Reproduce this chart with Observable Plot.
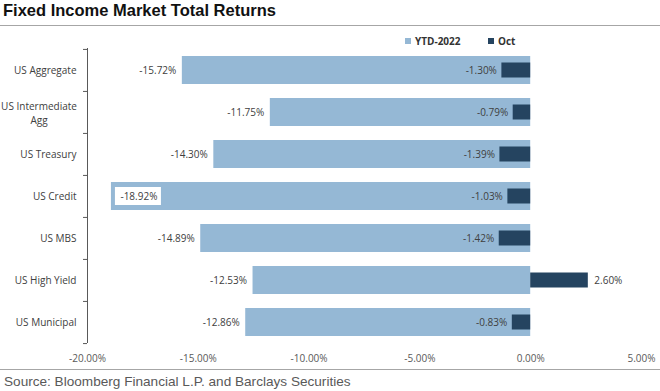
<!DOCTYPE html>
<html>
<head>
<meta charset="utf-8">
<script src="https://cdn.jsdelivr.net/npm/d3@7"></script>
<script src="https://cdn.jsdelivr.net/npm/@observablehq/plot@0.6"></script>
<style>
  html, body { margin: 0; padding: 0; background: #fff; }
  #wrap { position: relative; width: 660px; height: 391px; overflow: hidden; background: #fff; font-family: "Open Sans", "Noto Sans", sans-serif; }
  #title { position: absolute; left: 3px; top: 1px; font-family: "Liberation Sans", Arial, sans-serif; font-weight: bold; font-size: 16.5px; color: #111; white-space: nowrap; }
  .hline { position: absolute; left: 0; width: 660px; height: 1px; background: #a6a6a6; }
  #legend { position: absolute; top: 34px; left: 405px; font-size: 10px; font-weight: bold; color: #333; white-space: nowrap; }
  #legend .item { position: absolute; top: 0; display: flex; align-items: center; gap: 4px; }
  #legend .sw { display: inline-block; width: 6px; height: 6px; }
  #chart { position: absolute; left: 0; top: 30px; }
  #source { position: absolute; left: 4px; top: 374px; font-family: "Liberation Sans Narrow", "Arial Narrow", "Liberation Sans", sans-serif; font-size: 13.6px; color: #595959; white-space: nowrap; }
</style>
</head>
<body>
<div id="wrap">
  <div id="title">Fixed Income Market Total Returns</div>
  <div class="hline" style="top:25px"></div>
  <div id="legend"></div>
  <div id="chart"></div>
  <div class="hline" style="top:369px"></div>
  <div id="source">Source: Bloomberg Financial L.P. and Barclays Securities</div>
</div>
<script>
const categories = ["US Aggregate", "US Intermediate Agg", "US Treasury", "US Credit", "US MBS", "US High Yield", "US Municipal"];
const ytd2022 = [-15.72, -11.75, -14.30, -18.92, -14.89, -12.53, -12.86];
const oct = [-1.30, -0.79, -1.39, -1.03, -1.42, 2.60, -0.83];
const xTicks = [-20, -15, -10, -5, 0, 5];
const seriesNames = ["YTD-2022", "Oct"];
const seriesColors = ["#95b8d5", "#254460"];

const data = categories.map((c, i) => ({cat: c, ytd: ytd2022[i], oct: oct[i]}));
const fmt = v => v.toFixed(2) + "%";
const minYtd = d3.min(ytd2022);

const W = 660, H = 340, MT = 18, MB = 27, ML = 87, MR = 19;
const step = (H - MT - MB) / categories.length;

// legend
const legend = document.getElementById("legend");
const legendX = [0, 83];
seriesNames.forEach((n, i) => {
  const it = document.createElement("div");
  it.className = "item";
  it.style.left = legendX[i] + "px";
  it.innerHTML = `<span class="sw" style="background:${seriesColors[i]}"></span><span>${n}</span>`;
  legend.appendChild(it);
});

const labelColor = "#404040";
const plot = Plot.plot({
  width: W, height: H,
  marginTop: MT, marginBottom: MB, marginLeft: ML, marginRight: MR,
  style: {fontFamily: "'Open Sans', 'Noto Sans', sans-serif", fontSize: "10px", background: "transparent"},
  x: {domain: [-20, 5], label: null},
  y: {domain: categories, padding: 0, label: null, axis: null},
  marks: [
    Plot.barX(data, {y: "cat", x1: 0, x2: "ytd", fill: seriesColors[0], insetTop: 7, insetBottom: 7}),
    Plot.barX(data, {y: "cat", x1: 0, x2: "oct", fill: seriesColors[1], insetTop: 13.5, insetBottom: 13.5}),
    // YTD labels outside (left of bar)
    Plot.text(data.filter(d => d.ytd !== minYtd), {y: "cat", x: "ytd", text: d => fmt(d.ytd), textAnchor: "end", dx: -6, fill: labelColor}),
    // YTD label inside with white box
    Plot.barX(data.filter(d => d.ytd === minYtd), {y: "cat", x1: "ytd", x2: "ytd", insetLeft: 4, insetRight: -50, insetTop: 12, insetBottom: 12, fill: "white"}),
    Plot.text(data.filter(d => d.ytd === minYtd), {y: "cat", x: "ytd", text: d => fmt(d.ytd), textAnchor: "start", dx: 9, fill: labelColor}),
    // Oct labels
    Plot.text(data.filter(d => d.oct < 0), {y: "cat", x: "oct", text: d => fmt(d.oct), textAnchor: "end", dx: -5, fill: labelColor}),
    Plot.text(data.filter(d => d.oct >= 0), {y: "cat", x: "oct", text: d => fmt(d.oct), textAnchor: "start", dx: 6, fill: labelColor}),
    // category labels
    Plot.text(data.filter(d => d.cat !== "US Intermediate Agg"), {y: "cat", frameAnchor: "left", text: "cat", textAnchor: "end", dx: -11, fill: labelColor}),
    Plot.text(data.filter(d => d.cat === "US Intermediate Agg"), {y: "cat", frameAnchor: "left", text: d => "US Intermediate\nAgg", textAnchor: "middle", lineHeight: 1.4, dx: -48.5, fill: labelColor}),
    // y axis line and boundary ticks
    Plot.ruleX([-20], {stroke: "#595959"}),
    Plot.ruleY(categories, {y: d => d, x1: -20, x2: -20, insetLeft: -4, dy: -step / 2, stroke: "#595959"}),
    Plot.ruleY(categories.slice(-1), {y: d => d, x1: -20, x2: -20, insetLeft: -4, dy: step / 2, stroke: "#595959"}),
    Plot.axisX({ticks: xTicks, tickFormat: fmt, tickSize: 0, tickPadding: 11, fill: "#595959", label: null})
  ]
});
document.getElementById("chart").appendChild(plot);
</script>
</body>
</html>
